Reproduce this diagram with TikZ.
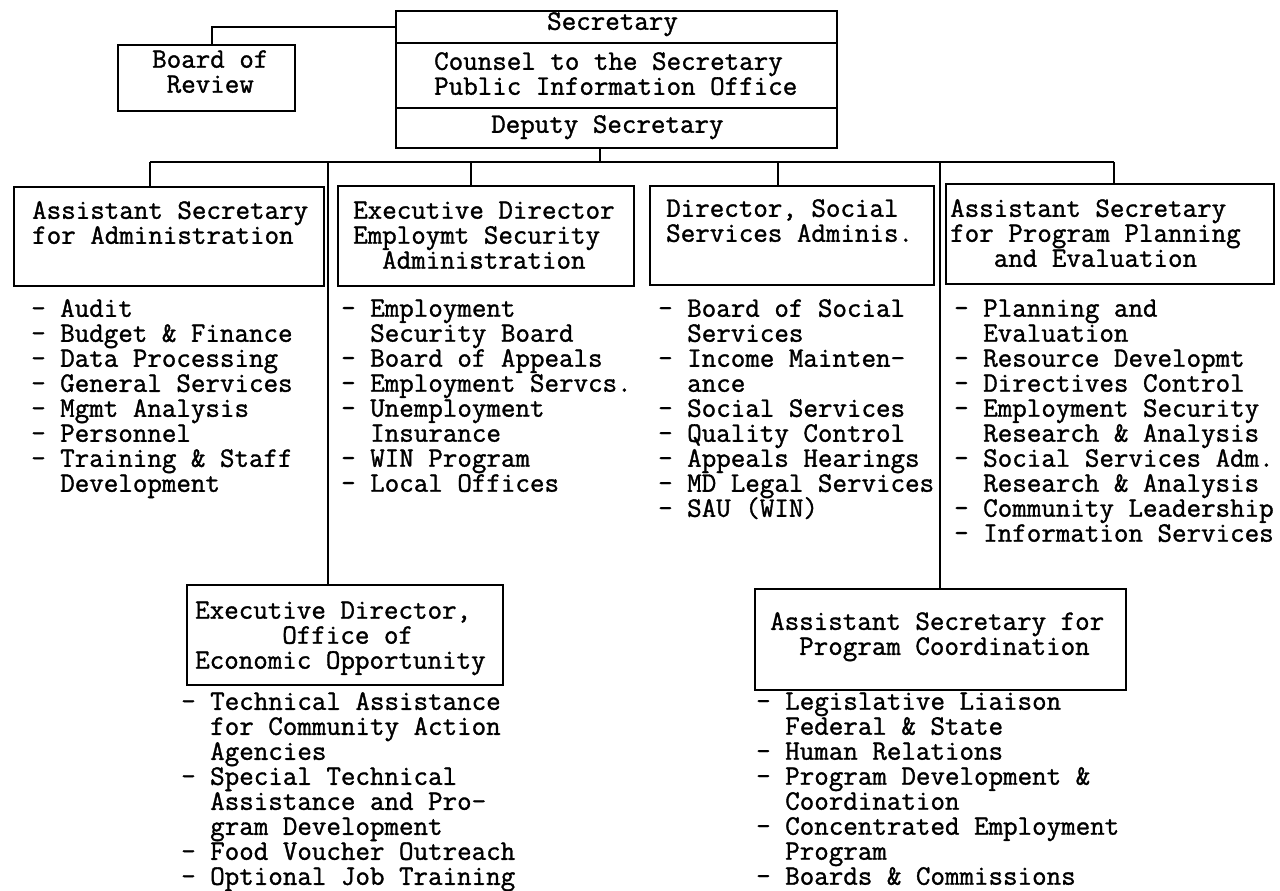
\documentclass[tikz,border=0pt]{standalone}
\usepackage{fontspec}
% typewriter face: monospaced, slightly inked, 25pt line pitch
\newfontfamily\twfam{lmmono12-regular}[Extension=.otf, FakeBold=1.2]
\newcommand\tw{\twfam\fontsize{28.2}{25}\selectfont\lineskiplimit=-50pt\relax}
% indent by a number of character cells
\newcommand\ch[1]{\hspace*{#1\fontcharwd\font`\M}}
\tikzset{
  box/.style={draw, line width=1.7pt, inner sep=0pt, anchor=north west},
  txt/.style={anchor=north west, inner sep=0pt, align=left, font=\tw},
  conn/.style={line width=1.7pt},
}
\begin{document}
\begin{tikzpicture}[x=1pt,y=-1pt]
\useasboundingbox (0,0) rectangle (1280,891);
\fill[white] (0,0) rectangle (1280,891);

% ---------------- boxes ----------------
\node[box, minimum width=177pt, minimum height=66pt]  (board) at (117,44)  {};
\node[box, minimum width=441pt, minimum height=137pt] (sec)   at (395,10)  {};
\node[box, minimum width=310pt, minimum height=99pt]  (adm)   at (13,186)  {};
\node[box, minimum width=296pt, minimum height=100pt] (esa)   at (337,185) {};
\node[box, minimum width=284pt, minimum height=99pt]  (ssa)   at (649,185) {};
\node[box, minimum width=328pt, minimum height=100pt] (ppe)   at (945,183) {};
\node[box, minimum width=316pt, minimum height=100pt] (oeo)   at (186,584) {};
\node[box, minimum width=371pt, minimum height=101pt] (pco)   at (754,588) {};

% dividers inside the Secretary box
\coordinate (d1) at (0,43);
\coordinate (d2) at (0,108);
\draw[conn] (sec.west |- d1) -- (sec.east |- d1);
\draw[conn] (sec.west |- d2) -- (sec.east |- d2);

% ---------------- box texts ----------------
\node[txt] (tboard) at (152,50)  {\strut Board of\\\ch1Review};
\node[txt] (tsec1)  at (547,12)  {\strut Secretary};
\node[txt] (tsec2)  at (434,52)  {\strut Counsel to the Secretary\\Public Information Office};
\node[txt] (tsec3)  at (491,115) {\strut Deputy Secretary};
\node[txt] (tadm)   at (32,201)  {\strut Assistant Secretary\\for Administration};
\node[txt] (tesa)   at (353,201) {\strut Executive Director\\Employmt Security\\\ch2Administration};
\node[txt] (tssa)   at (666,199) {\strut Director, Social\\Services Adminis.};
\node[txt] (tppe)   at (950,199) {\strut Assistant Secretary\\for Program Planning\\\ch3and Evaluation};
\node[txt] (toeo)   at (195,601) {\strut Executive Director,\\\ch6Office of\\Economic Opportunity};
\node[txt] (tpco)   at (770,612) {\strut Assistant Secretary for\\\ch2Program Coordination};

% ---------------- unit lists ----------------
\node[txt] (ladm) at (31,299) {\strut - Audit\\- Budget \& Finance\\- Data Processing\\- General Services\\- Mgmt Analysis\\- Personnel\\- Training \& Staff\\\ch2Development};
\node[txt] (lesa) at (341,299) {\strut - Employment\\\ch2Security Board\\- Board of Appeals\\- Employment Servcs.\\- Unemployment\\\ch2Insurance\\- WIN Program\\- Local Offices};
\node[txt] (lssa) at (658,299) {\strut - Board of Social\\\ch2Services\\- Income Mainten-\\\ch2ance\\- Social Services\\- Quality Control\\- Appeals Hearings\\- MD Legal Services\\- SAU (WIN)};
\node[txt] (lppe) at (954,299) {\strut - Planning and\\\ch2Evaluation\\- Resource Developmt\\- Directives Control\\- Employment Security\\\ch2Research \& Analysis\\- Social Services Adm.\\\ch2Research \& Analysis\\- Community Leadership\\- Information Services};
\node[txt] (loeo) at (181,692) {\strut - Technical Assistance\\\ch2for Community Action\\\ch2Agencies\\- Special Technical\\\ch2Assistance and Pro-\\\ch2gram Development\\- Food Voucher Outreach\\- Optional Job Training};
\node[txt] (lpco) at (756,692) {\strut - Legislative Liaison\\\ch2Federal \& State\\- Human Relations\\- Program Development \&\\\ch2Coordination\\- Concentrated Employment\\\ch2Program\\- Boards \& Commissions};

% ---------------- connectors ----------------
\coordinate (brk)  at (212,27);
\coordinate (stem) at (600,162);
\coordinate (busL) at (150,162);
\coordinate (busR) at (1114,162);
\coordinate (j2)   at (471,162);
\coordinate (j3)   at (778,162);
\coordinate (jo)   at (328,162);
\coordinate (jp)   at (940,162);

\draw[conn] (board.north -| brk) -- (brk) -- (sec.west |- brk);
\draw[conn] (sec.south -| stem) -- (stem);
\draw[conn] (busL) -- (busR);
\draw[conn] (busL) -- (adm.north -| busL);
\draw[conn] (j2)   -- (esa.north -| j2);
\draw[conn] (j3)   -- (ssa.north -| j3);
\draw[conn] (busR) -- (ppe.north -| busR);
\draw[conn] (jo)   -- (oeo.north -| jo);
\draw[conn] (jp)   -- (pco.north -| jp);
\end{tikzpicture}
\end{document}
